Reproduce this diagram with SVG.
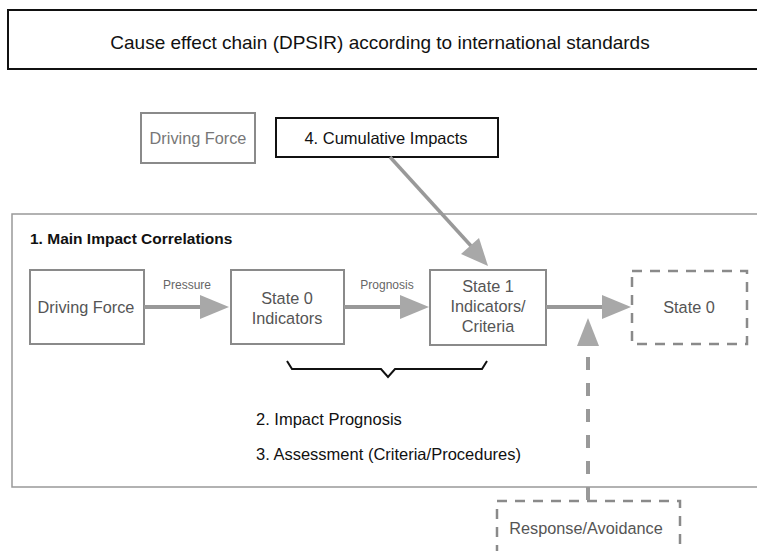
<svg xmlns="http://www.w3.org/2000/svg" width="757" height="551" viewBox="0 0 757 551">
<style>
text{font-family:"Liberation Sans",Arial,sans-serif}
.gbox{fill:#fff;stroke:#8a8a8a;stroke-width:2}
.dbox{fill:#fff;stroke:#8a8a8a;stroke-width:2.5;stroke-dasharray:10,8}
.kbox{fill:#fff;stroke:#111;stroke-width:2}
.gt{fill:#555;font-size:16.3px;text-anchor:middle}
.lbl{fill:#666;font-size:12px;text-anchor:middle}
.hd{fill:#111;font-size:16.5px}
.shaft{stroke:#999;stroke-width:4;fill:none}
.head{fill:#a8a8a8}
</style>
<rect width="757" height="551" fill="#fff"/>
<g id="title">
<rect x="8" y="10" width="760" height="59" class="kbox"/>
<text x="380" y="49" font-size="19" fill="#111" text-anchor="middle">Cause effect chain (DPSIR) according to international standards</text>
</g>
<g id="main-frame">
<rect x="12" y="214" width="760" height="273" fill="none" stroke="#999" stroke-width="1.5"/>
<text x="30" y="244" fill="#111" font-weight="bold" font-size="15.5">1. Main Impact Correlations</text>
</g>
<g id="driving-force-top">
<rect x="141" y="113" width="114" height="50" class="gbox"/>
<text x="198" y="144" class="gt" style="fill:#777">Driving Force</text>
</g>
<g id="cumulative">
<rect x="276" y="118" width="222" height="39" class="kbox"/>
<text x="386" y="144" font-size="16.5" fill="#111" text-anchor="middle">4. Cumulative Impacts</text>
</g>
<g id="driving-force">
<rect x="30" y="270" width="114" height="74" class="gbox"/>
<text x="86" y="313" class="gt">Driving Force</text>
</g>
<g id="state0-indicators">
<rect x="231" y="270" width="113" height="74" class="gbox"/>
<text x="287" y="304" class="gt">State 0</text>
<text x="287" y="324" class="gt">Indicators</text>
</g>
<g id="state1">
<rect x="430" y="270" width="116" height="75" class="gbox"/>
<text x="488" y="292" class="gt">State 1</text>
<text x="488" y="312" class="gt">Indicators/</text>
<text x="488" y="332" class="gt">Criteria</text>
</g>
<g id="state0">
<rect x="632" y="271" width="115" height="73" class="dbox"/>
<text x="689" y="313" class="gt">State 0</text>
</g>
<g id="response">
<rect x="497" y="501" width="183" height="60" class="dbox"/>
<text x="586" y="534" class="gt">Response/Avoidance</text>
</g>
<g id="connectors">
<line x1="144" y1="307" x2="202" y2="307" class="shaft"/>
<polygon points="200,295 229,307 200,319" class="head"/>
<text x="187" y="289" class="lbl">Pressure</text>
<line x1="344" y1="307" x2="402" y2="307" class="shaft"/>
<polygon points="400,295 429,307 400,319" class="head"/>
<text x="387" y="289" class="lbl">Prognosis</text>
<line x1="546" y1="307" x2="604" y2="307" class="shaft"/>
<polygon points="602,295 631,307 602,319" class="head"/>
<line x1="390" y1="157" x2="472" y2="247" stroke="#999" stroke-width="3.5"/>
<polygon points="488,266 461,254 479,238" class="head"/>
<line x1="588" y1="500" x2="588" y2="346" stroke="#999" stroke-width="4" stroke-dasharray="13,13"/>
<polygon points="577,346 588,318 599,346" class="head"/>
<path d="M287,361 L292,369 L381,369 L388,377 L395,369 L482,369 L487,361" fill="none" stroke="#111" stroke-width="2"/>
</g>
<g id="labels">
<text x="256" y="425" class="hd">2. Impact Prognosis</text>
<text x="256" y="460" class="hd">3. Assessment (Criteria/Procedures)</text>
</g>
</svg>
